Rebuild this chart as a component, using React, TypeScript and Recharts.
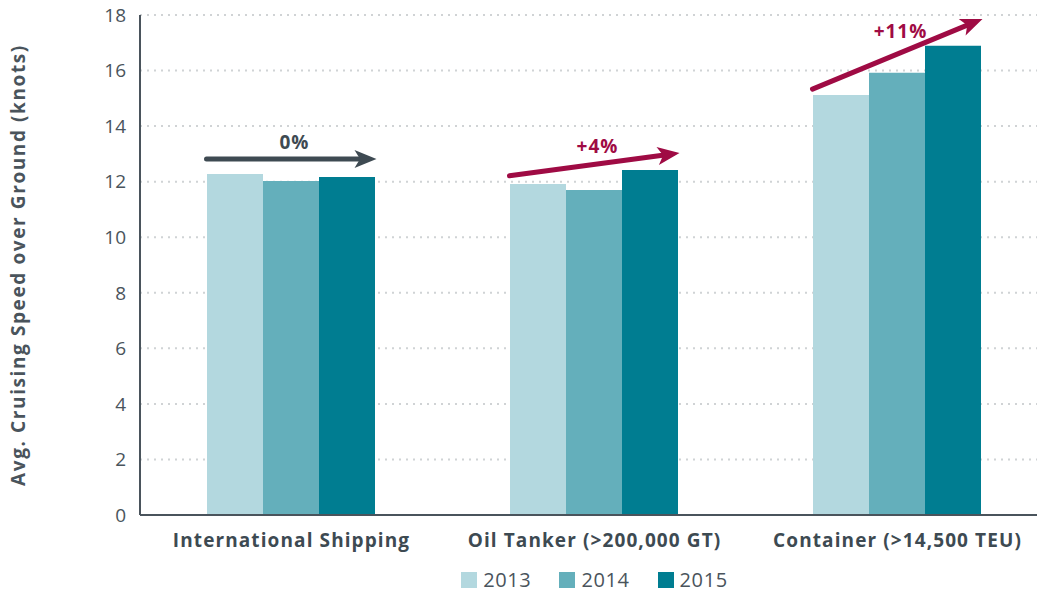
import { Bar, BarChart, CartesianGrid, Legend, ReferenceLine, XAxis, YAxis } from "recharts";

const categories = [
  "International Shipping",
  "Oil Tanker (>200,000 GT)",
  "Container (>14,500 TEU)",
];
const years = ["2013", "2014", "2015"];
const speed2013 = [12.28, 11.92, 15.12];
const speed2014 = [12.02, 11.7, 15.92];
const speed2015 = [12.17, 12.42, 16.89];
const yTicks = [0, 2, 4, 6, 8, 10, 12, 14, 16, 18];

// trend arrows drawn over each group
const arrowFrom = [12.82, 12.21, 15.33];
const arrowTo = [12.82, 13.03, 17.86];
const arrowLabels = ["0%", "+4%", "+11%"];

const COLORS = ["#b3d8df", "#64afbb", "#007d91"];
const ARROW_COLORS = ["#3e4a52", "#9f0b44", "#9f0b44"];
const INK = "#4a545c";
const FONT = "'Open Sans', sans-serif";

const data = categories.map((name, i) => ({
  name,
  "2013": speed2013[i],
  "2014": speed2014[i],
  "2015": speed2015[i],
}));

function Arrow({ x1, y1, x2, y2, color, text }: any) {
  const sx = x1 - 85;
  const ex = x2 + 85;
  const ang = Math.atan2(y2 - y1, ex - sx);
  const c = Math.cos(ang);
  const s = Math.sin(ang);
  const head = 22;
  const half = 9;
  const bx = ex - head * c;
  const by = y2 - head * s;
  const pts = [
    [ex, y2],
    [bx + half * s, by - half * c],
    [ex - head * 0.75 * c, y2 - head * 0.75 * s],
    [bx - half * s, by + half * c],
  ]
    .map((p) => p.join(","))
    .join(" ");
  const mx = (sx + ex) / 2;
  const my = (y1 + y2) / 2;
  const lift = 10 + 14 * Math.abs(Math.tan(ang));
  return (
    <g>
      <line
        x1={sx}
        y1={y1}
        x2={ex - head * 0.6 * c}
        y2={y2 - head * 0.6 * s}
        stroke={color}
        strokeWidth={5}
        strokeLinecap="round"
      />
      <polygon points={pts} fill={color} />
      <text
        x={mx + 3}
        y={my - lift}
        textAnchor="middle"
        fill={color}
        fontFamily={FONT}
        fontWeight={700}
        fontSize={19}
        letterSpacing={1}
      >
        {text}
      </text>
    </g>
  );
}

function YearLegend() {
  return (
    <div
      style={{
        display: "flex",
        justifyContent: "center",
        alignItems: "center",
        paddingTop: 9,
        lineHeight: "22px",
        fontFamily: FONT,
        fontSize: 20,
        color: INK,
      }}
    >
      {years.map((y, i) => (
        <div key={y} style={{ display: "flex", alignItems: "center", marginRight: i < 2 ? 28 : 0 }}>
          <span style={{ width: 16, height: 16, background: COLORS[i], marginRight: 6, display: "inline-block" }} />
          <span style={{ letterSpacing: 0.6 }}>{y}</span>
        </div>
      ))}
    </div>
  );
}

export default function App() {
  return (
    <div
      style={{
        position: "fixed",
        left: 0,
        top: 0,
        width: 1037,
        height: 592,
        overflow: "hidden",
        background: "#fff",
      }}
    >
      <BarChart
        width={1049}
        height={592}
        data={data}
        margin={{ top: 15, right: 0, left: 0, bottom: 0 }}
        barCategoryGap={67}
        barGap={0}
      >
        <CartesianGrid
          vertical={false}
          stroke="#d0d3d5"
          strokeWidth={2}
          strokeDasharray="2 5"
        />
        <XAxis
          dataKey="name"
          height={45}
          tickLine={false}
          tickMargin={13}
          axisLine={{ stroke: INK, strokeWidth: 2 }}
          tick={{ fill: "#3d4a52", fontSize: 19, fontWeight: 700, fontFamily: FONT, letterSpacing: 1.1 }}
        />
        <YAxis
          width={140}
          domain={[0, 18]}
          ticks={yTicks}
          tickLine={false}
          tickMargin={8}
          axisLine={{ stroke: INK, strokeWidth: 2 }}
          tick={{ fill: INK, fontSize: 19, fontFamily: FONT }}
          label={{
            value: "Avg. Cruising Speed over Ground (knots)",
            angle: -90,
            position: "insideLeft",
            offset: 18,
            style: {
              textAnchor: "middle",
              fill: INK,
              fontSize: 19,
              fontWeight: 700,
              fontFamily: FONT,
              letterSpacing: 1.6,
            },
          }}
        />
        <Legend
          verticalAlign="bottom"
          height={32}
          wrapperStyle={{ left: 140, width: 909 }}
          content={() => <YearLegend />}
        />
        {years.map((y, i) => (
          <Bar key={y} dataKey={y} fill={COLORS[i]} isAnimationActive={false} />
        ))}
        {categories.map((c, i) => (
          <ReferenceLine
            key={c}
            ifOverflow="visible"
            segment={[
              { x: c, y: arrowFrom[i] },
              { x: c, y: arrowTo[i] },
            ]}
            shape={(p: any) => (
              <Arrow {...p} color={ARROW_COLORS[i]} text={arrowLabels[i]} />
            )}
          />
        ))}
      </BarChart>
    </div>
  );
}
